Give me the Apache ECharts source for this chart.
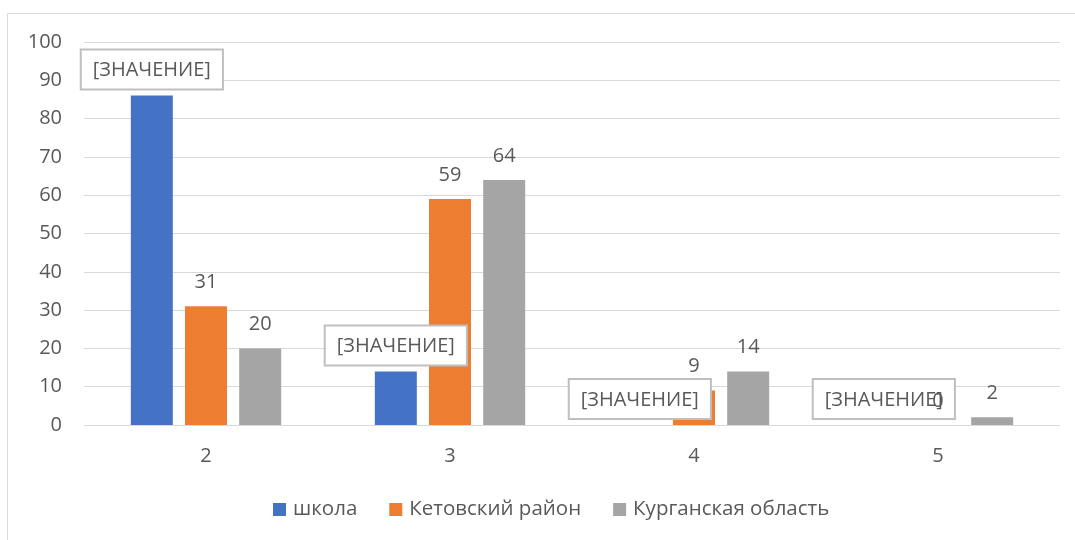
<!DOCTYPE html>
<html><head><meta charset="utf-8">
<script src="https://cdn.jsdelivr.net/npm/echarts@6/dist/echarts.min.js"></script>
<style>html,body{margin:0;padding:0;background:#fff}#c{width:1075px;height:540px}</style>
</head><body><div id="c"></div>
<script>
const categories = ['2', '3', '4', '5'];
const seriesNames = ['школа', 'Кетовский район', 'Курганская область'];
const school = [86, 14, 0, 0];
const ketovsky = [31, 59, 9, 0];
const kurgan = [20, 64, 14, 2];
const yTicks = [0, 10, 20, 30, 40, 50, 60, 70, 80, 90, 100];
const placeholder = '[ЗНАЧЕНИЕ]';

const FONT = 'Open Sans';
const TXT = '#595959';
const chart = echarts.init(document.getElementById('c'));
const plainLabel = {show: true, position: 'top', distance: 14, color: TXT, fontSize: 20, fontFamily: FONT};
chart.setOption({
  animation: false,
  graphic: [{type: 'rect', shape: {x: 7.5, y: 13.5, width: 1080, height: 540}, style: {fill: 'none', stroke: '#d9d9d9', lineWidth: 1}, silent: true}],
  grid: {left: 84, right: 15, top: 42, bottom: 115},
  legend: {bottom: 15, left: 268, itemWidth: 13, itemHeight: 13, itemGap: 32, icon: 'rect',
    textStyle: {color: TXT, fontSize: 20.5, fontFamily: FONT, padding: [0, 0, 0, 2]}, data: seriesNames},
  xAxis: {type: 'category', data: categories,
    axisLine: {lineStyle: {color: '#d9d9d9', width: 1}}, axisTick: {show: false},
    axisLabel: {color: TXT, fontSize: 20, fontFamily: FONT, margin: 21}},
  yAxis: {type: 'value', min: yTicks[0], max: yTicks[yTicks.length - 1], interval: 10,
    axisLine: {show: false}, axisTick: {show: false},
    splitLine: {lineStyle: {color: '#d9d9d9', width: 1}},
    axisLabel: {color: TXT, fontSize: 20, fontFamily: FONT, margin: 22}},
  series: [
    {name: seriesNames[0], type: 'bar', data: school, barWidth: 42, barGap: '29%', itemStyle: {color: '#4472C4'},
      label: {show: true, position: 'top', distance: 7, formatter: placeholder, color: TXT, fontSize: 20, fontFamily: FONT,
        lineHeight: 24, backgroundColor: '#fff', borderColor: '#bfbfbf', borderWidth: 2, padding: [8, 11, 6, 11]}},
    {name: seriesNames[1], type: 'bar', data: ketovsky, barWidth: 42, itemStyle: {color: '#ED7D31'}, label: plainLabel},
    {name: seriesNames[2], type: 'bar', data: kurgan, barWidth: 42, itemStyle: {color: '#A5A5A5'}, label: plainLabel}
  ]
});
</script></body></html>
